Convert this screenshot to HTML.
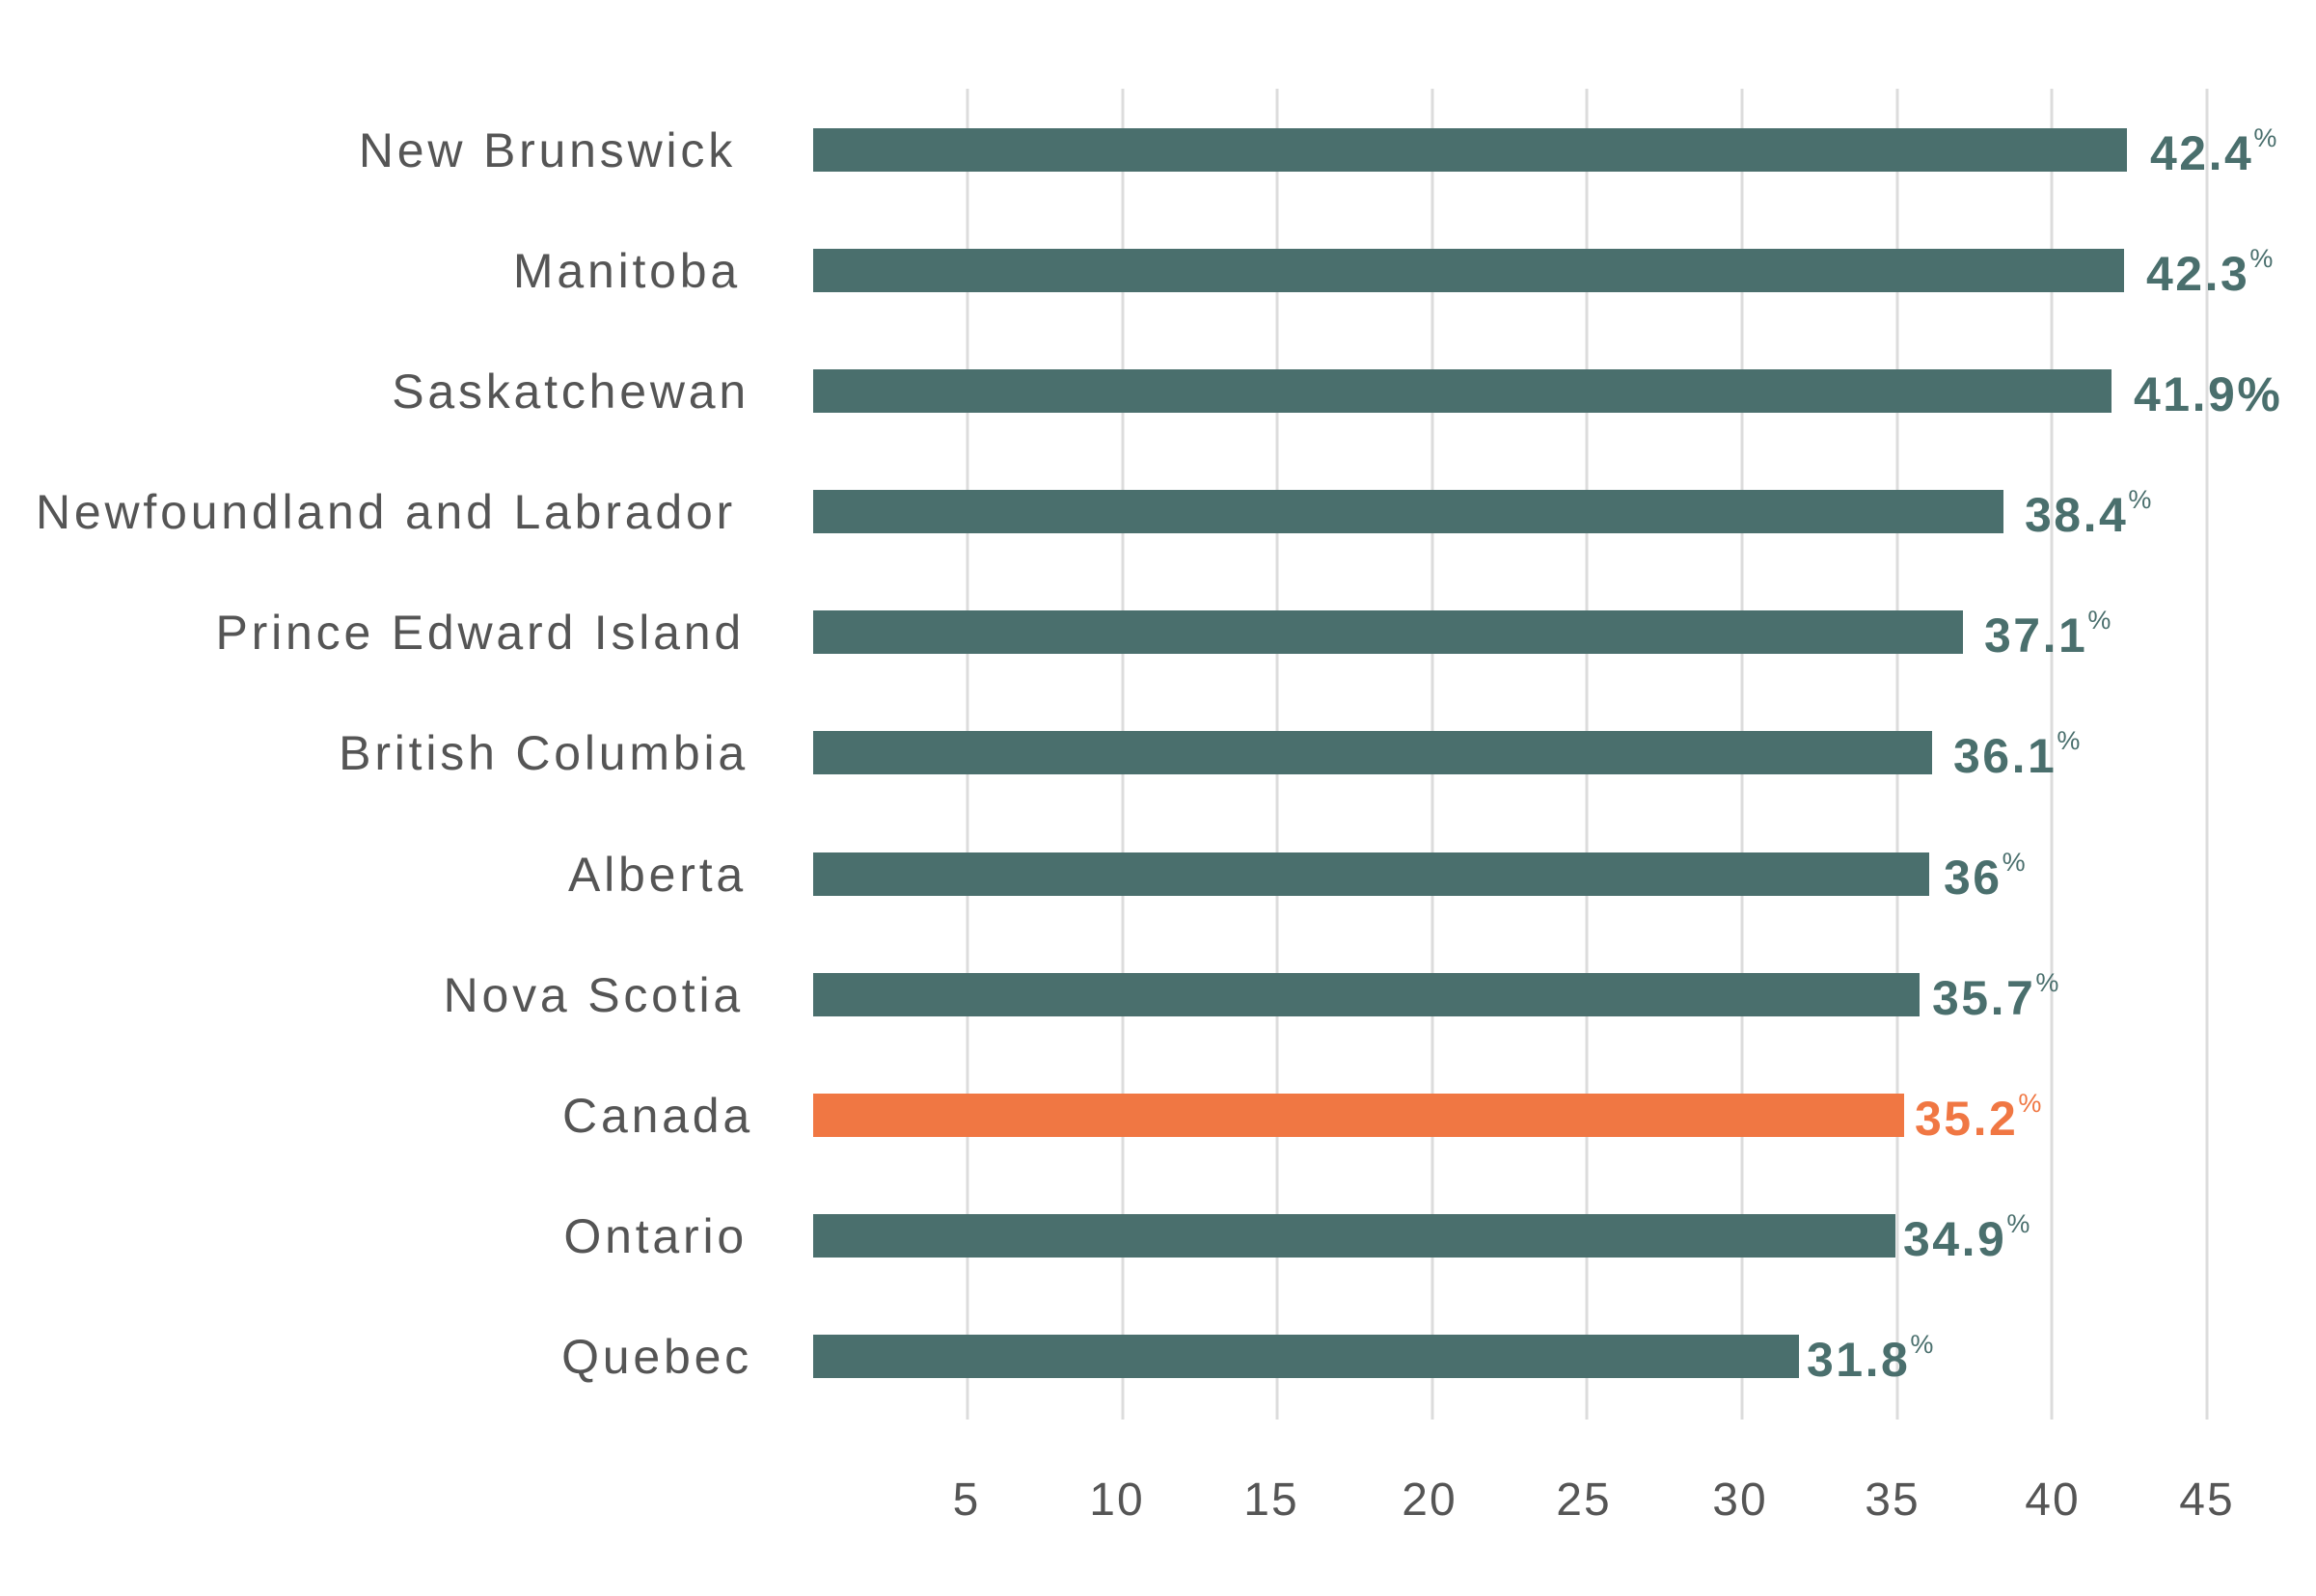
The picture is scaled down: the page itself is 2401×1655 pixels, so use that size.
<!DOCTYPE html>
<html><head><style>body{margin:0;background:#fff}</style></head><body>
<svg width="2401" height="1650" xmlns="http://www.w3.org/2000/svg" font-family="Liberation Sans, sans-serif">
<g stroke="#dcdcdc" stroke-width="3">
<line x1="1003" y1="92" x2="1003" y2="1472"/><line x1="1164" y1="92" x2="1164" y2="1472"/><line x1="1324" y1="92" x2="1324" y2="1472"/><line x1="1485" y1="92" x2="1485" y2="1472"/><line x1="1645" y1="92" x2="1645" y2="1472"/><line x1="1806" y1="92" x2="1806" y2="1472"/><line x1="1967" y1="92" x2="1967" y2="1472"/><line x1="2127" y1="92" x2="2127" y2="1472"/><line x1="2288" y1="92" x2="2288" y2="1472"/>
</g>
<g font-size="48" fill="#555" text-anchor="middle" letter-spacing="2">
<text x="1002" y="1571">5</text><text x="1158" y="1571">10</text><text x="1318" y="1571">15</text><text x="1482" y="1571">20</text><text x="1642" y="1571">25</text><text x="1804" y="1571">30</text><text x="1962" y="1571">35</text><text x="2128" y="1571">40</text><text x="2288" y="1571">45</text>
</g>
<g font-size="50" fill="#555" text-anchor="end" letter-spacing="3.8">
<text x="763" y="173">New Brunswick</text>
<text x="768" y="298">Manitoba</text>
<text x="777" y="423">Saskatchewan</text>
<text x="763" y="548">Newfoundland and Labrador</text>
<text x="772" y="673">Prince Edward Island</text>
<text x="776" y="798">British Columbia</text>
<text x="774" y="924">Alberta</text>
<text x="771" y="1049">Nova Scotia</text>
<text x="781" y="1174">Canada</text>
<text x="775" y="1299">Ontario</text>
<text x="780" y="1424">Quebec</text>
</g>
<g fill="#4a6f6d">
<rect x="843" y="133" width="1362" height="45"/>
<rect x="843" y="258" width="1359" height="45"/>
<rect x="843" y="383" width="1346" height="45"/>
<rect x="843" y="508" width="1234" height="45"/>
<rect x="843" y="633" width="1192" height="45"/>
<rect x="843" y="758" width="1160" height="45"/>
<rect x="843" y="884" width="1157" height="45"/>
<rect x="843" y="1009" width="1147" height="45"/>
<rect x="843" y="1259" width="1122" height="45"/>
<rect x="843" y="1384" width="1022" height="45"/>
</g>
<rect x="843" y="1134" width="1131" height="45" fill="#f07743"/>
<g font-size="50" font-weight="bold" fill="#4a6f6d" letter-spacing="2.5">
<text x="2229" y="176">42.4<tspan font-size="27" font-weight="normal" letter-spacing="0" dy="-24">%</tspan></text>
<text x="2225" y="301">42.3<tspan font-size="27" font-weight="normal" letter-spacing="0" dy="-24">%</tspan></text>
<text x="2212" y="426">41.9%</text>
<text x="2099" y="551">38.4<tspan font-size="27" font-weight="normal" letter-spacing="0" dy="-24">%</tspan></text>
<text x="2057" y="676">37.1<tspan font-size="27" font-weight="normal" letter-spacing="0" dy="-24">%</tspan></text>
<text x="2025" y="801">36.1<tspan font-size="27" font-weight="normal" letter-spacing="0" dy="-24">%</tspan></text>
<text x="2015" y="927">36<tspan font-size="27" font-weight="normal" letter-spacing="0" dy="-24">%</tspan></text>
<text x="2003" y="1052">35.7<tspan font-size="27" font-weight="normal" letter-spacing="0" dy="-24">%</tspan></text>
<text x="1985" y="1177" fill="#f07743">35.2<tspan font-size="27" font-weight="normal" letter-spacing="0" dy="-24">%</tspan></text>
<text x="1973" y="1302">34.9<tspan font-size="27" font-weight="normal" letter-spacing="0" dy="-24">%</tspan></text>
<text x="1873" y="1427">31.8<tspan font-size="27" font-weight="normal" letter-spacing="0" dy="-24">%</tspan></text>
</g>
</svg>
</body></html>
